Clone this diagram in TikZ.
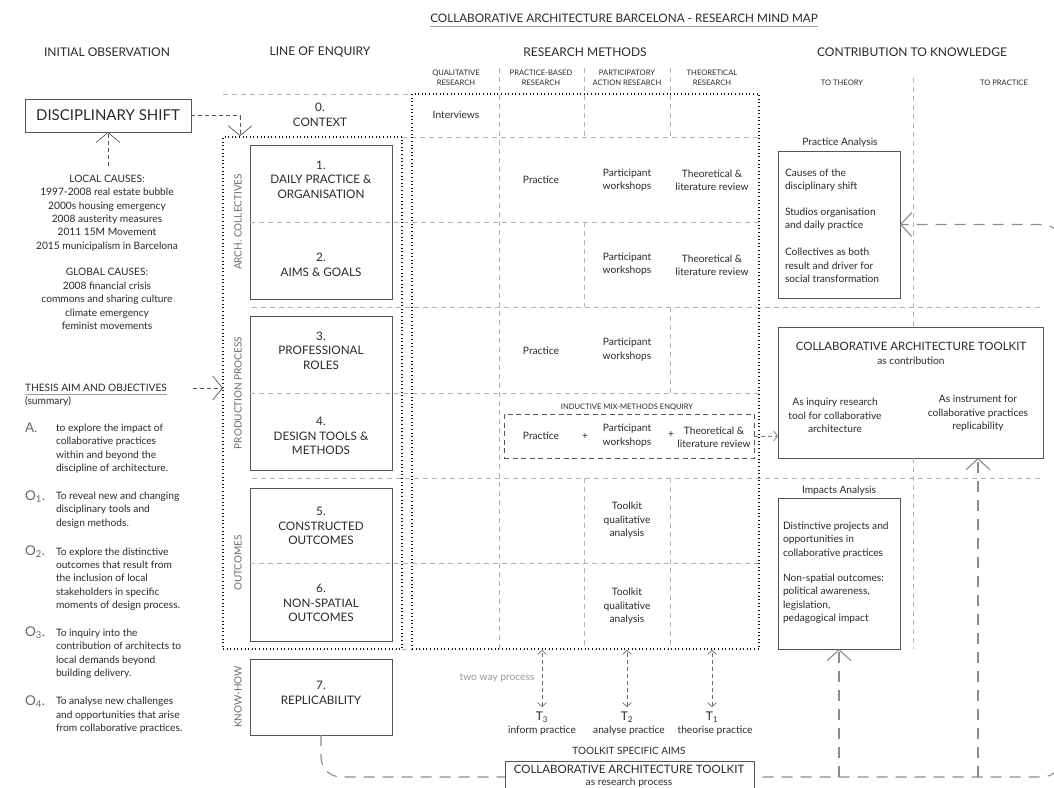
\documentclass[tikz,border=0pt]{standalone}
\usepackage{fontspec}
\setmainfont{Lato}
\usetikzlibrary{arrows.meta}
\definecolor{tc}{HTML}{2A2A2A}
\definecolor{boxc}{HTML}{555555}
\definecolor{gridc}{HTML}{B3B3B3}
\definecolor{loopc}{HTML}{8C8C8C}
\definecolor{dotc}{HTML}{111111}
\definecolor{lblc}{HTML}{6A6A6A}
\definecolor{lightc}{HTML}{9A9A9A}
\begin{document}
\begin{tikzpicture}[x=1pt,y=-1pt,
  every node/.style={inner sep=0pt, outer sep=0pt, text=tc},
  body/.style={font=\fontsize{10.2}{13.4}\selectfont, align=center},
  bodyl/.style={font=\fontsize{10.2}{13.4}\selectfont, align=left, anchor=west},
  hdr/.style={font=\fontsize{12}{14}\selectfont},
  subh/.style={font=\fontsize{7.6}{10.5}\selectfont, align=center},
  boxlbl/.style={font=\fontsize{11.7}{14.5}\selectfont, align=center},
  side/.style={font=\fontsize{10}{11}\selectfont, rotate=90, text=lblc},
  obj/.style={font=\fontsize{13.5}{14}\selectfont, text=lblc, anchor=west},
  box/.style={draw=boxc, line width=0.9pt, fill=white, anchor=north west},
  grid/.style={draw=gridc, line width=0.7pt, dash pattern=on 5pt off 4pt},
  dotbox/.style={draw=dotc, line width=2.1pt, dash pattern=on 0.9pt off 2.7pt, anchor=north west},
  loopl/.style={draw=loopc, line width=1.1pt, dash pattern=on 11pt off 8pt},
  conn/.style={draw=boxc, line width=0.7pt, dash pattern=on 4pt off 3pt},
  bigtip/.style={-{Straight Barb[length=10pt,width=24pt]}},
  twotip/.style={{Straight Barb[length=4pt,width=9pt]}-{Straight Barb[length=4pt,width=9pt]}}
]
\useasboundingbox[fill=white] (0,0) rectangle (1054,787);

% ---------- coordinates for the loop ----------
\coordinate (lpA) at (321,777);
\coordinate (lpB) at (1062,777);
\coordinate (tkb) at (978,458);

% ---------- boxes ----------
\node[box, minimum width=166pt, minimum height=33pt] (ds) at (25,99) {};
\node[box, minimum width=142pt, minimum height=154pt] (ac) at (250,145) {};
\node[box, minimum width=142pt, minimum height=154pt] (pp) at (250,316) {};
\node[box, minimum width=142pt, minimum height=153pt] (oc) at (250,488) {};
\node[box, minimum width=142pt, minimum height=76pt] (kh) at (250,659) {};
\node[box, minimum width=122pt, minimum height=147pt] (pa) at (778,151) {};
\node[box, minimum width=265pt, minimum height=131pt] (tk) at (778,327) {};
\node[box, minimum width=122pt, minimum height=151pt] (imp) at (778,498) {};
\coordinate (lpC) at (lpB |- pa.east);

% loop line (behind the bottom box)
\draw[loopl, rounded corners=20pt, -{Straight Barb[length=11pt,width=24pt]}]
  (kh.south) -- (lpA) -- (lpB) -- (lpC) -- (pa.east);
\draw[loopl, -{Straight Barb[length=11pt,width=24pt]}] (imp.south |- lpA) -- (imp.south);
\draw[loopl, -{Straight Barb[length=11pt,width=24pt]}] (tkb |- lpA) -- (tkb);

\node[box, minimum width=249pt, minimum height=40pt] (rp) at (505,761) {};

% ---------- grid ----------
\draw[grid] (223,94) -- (412,94);
\draw[grid] (402,137) -- (759,137);
\draw[grid] (250,222) -- (759,222);
\draw[grid] (252,307) -- (1043,307);
\draw[grid] (250,393) -- (759,393);
\draw[grid] (252,478) -- (1043,478);
\draw[grid] (250,563) -- (759,563);
\draw[grid] (402,649) -- (412,649);
\draw[grid] (499,68) -- (499,649);
\draw[grid] (584,68) -- (584,137);
\draw[grid] (584,222) -- (584,307);
\draw[grid] (584,478) -- (584,649);
\draw[grid] (670,68) -- (670,137);
\draw[grid] (670,307) -- (670,393);
\draw[grid] (670,478) -- (670,649);
\draw[grid] (913,78) -- (913,327);
\draw[grid] (913,458) -- (913,649);

% ---------- dotted groups ----------
\node[dotbox, minimum width=179pt, minimum height=512pt] (grp) at (223,137) {};
\node[dotbox, minimum width=347pt, minimum height=555pt] (rm) at (412,94) {};
\node[draw=boxc, line width=0.8pt, dash pattern=on 5pt off 3.5pt, anchor=north west, minimum width=250pt, minimum height=44pt] (ind) at (504,414) {};

% ---------- title and headers ----------
\node[font=\fontsize{11.7}{13}\selectfont] (title) at (624,18) {COLLABORATIVE ARCHITECTURE BARCELONA - RESEARCH MIND MAP};
\draw[draw=lightc, line width=0.8pt] ([yshift=-4.5pt]title.south west) -- ([yshift=-4.5pt]title.south east);
\node[hdr] (h1) at (107,52) {INITIAL OBSERVATION};
\node[hdr] (h2) at (320,52) {LINE OF ENQUIRY};
\node[hdr] (h3) at (585,52) {RESEARCH METHODS};
\node[hdr] (h4) at (912,52) {CONTRIBUTION TO KNOWLEDGE};
\node[subh] (s1) at (456,78) {QUALITATIVE\\RESEARCH};
\node[subh] (s2) at (541,78) {PRACTICE-BASED\\RESEARCH};
\node[subh] (s3) at (627,78) {PARTICIPATORY\\ACTION RESEARCH};
\node[subh] (s4) at (712,78) {THEORETICAL\\RESEARCH};
\node[subh] (s5) at (842,83) {TO THEORY};
\node[subh] (s6) at (1004,83) {TO PRACTICE};

% ---------- initial observation ----------
\node[font=\fontsize{15}{17}\selectfont] (dst) at (ds.center) {DISCIPLINARY SHIFT};
\node[body] (loc) at (107,213) {LOCAL CAUSES:\\1997-2008 real estate bubble\\2000s housing emergency\\2008 austerity measures\\2011 15M Movement\\2015 municipalism in Barcelona};
\node[body] (glo) at (107,299) {GLOBAL CAUSES:\\2008 financial crisis\\commons and sharing culture\\climate emergency\\feminist movements};
\coordinate (locTop) at (108,166);
\node[font=\fontsize{10.2}{12}\selectfont, anchor=west] (th) at (25,388) {THESIS AIM AND OBJECTIVES};
\draw[draw=lightc, line width=0.8pt] ([yshift=-2.5pt]th.south west) -- ([yshift=-2.5pt]th.south east);
\node[font=\fontsize{10.2}{12}\selectfont, anchor=west] (sm) at (25,401) {(summary)};
\node[obj] (oa) at (25,428) {A.};
\node[bodyl] (ta) at (56,448.5) {to explore the impact of\\collaborative practices\\within and beyond the\\discipline of architecture.};
\node[obj] (o1) at (25,497) {O\textsubscript{1}.};
\node[bodyl] (t1) at (56,510) {To reveal new and changing\\disciplinary tools and\\design methods.};
\node[obj] (o2) at (25,552) {O\textsubscript{2}.};
\node[bodyl] (t2) at (56,579) {To explore the distinctive\\outcomes that result from\\the inclusion of local\\stakeholders in specific\\moments of design process.};
\node[obj] (o3) at (25,633) {O\textsubscript{3}.};
\node[bodyl] (t3) at (56,653.5) {To inquiry into the\\contribution of architects to\\local demands beyond\\building delivery.};
\node[obj] (o4) at (25,702) {O\textsubscript{4}.};
\node[bodyl] (t4) at (56,715.5) {To analyse new challenges\\and opportunities that arise\\from collaborative practices.};
\coordinate (thEnd) at (193,388);
\coordinate (grpIn) at (grp.west |- thEnd);

% ---------- line of enquiry ----------
\node[boxlbl] (l0) at (320,115) {0.\\CONTEXT};
\node[boxlbl] (l1) at (321,179.5) {1.\\DAILY PRACTICE \&\\ORGANISATION};
\node[boxlbl] (l2) at (321,265) {2.\\AIMS \& GOALS};
\node[boxlbl] (l3) at (321,350.5) {3.\\PROFESSIONAL\\ROLES};
\node[boxlbl] (l4) at (321,436) {4.\\DESIGN TOOLS \&\\METHODS};
\node[boxlbl] (l5) at (321,526) {5.\\CONSTRUCTED\\OUTCOMES};
\node[boxlbl] (l6) at (321,603) {6.\\NON-SPATIAL\\OUTCOMES};
\node[boxlbl] (l7) at (321,693) {7.\\REPLICABILITY};
\node[side] (sa) at (238,222) {ARCH. COLLECTIVES};
\node[side] (sp) at (238,393) {PRODUCTION PROCESS};
\node[side] (so) at (238,563) {OUTCOMES};
\node[side] (sk) at (238,697) {KNOW-HOW};
\coordinate (dsT) at (240,136);

% ---------- research methods ----------
\node[body] (r0) at (456,115) {Interviews};
\node[body] (r1a) at (541,180) {Practice};
\node[body] (r1b) at (627,180) {Participant\\workshops};
\node[body] (r1c) at (712,180.5) {Theoretical \&\\literature review};
\node[body] (r2b) at (627,264) {Participant\\workshops};
\node[body] (r2c) at (712,265.5) {Theoretical \&\\literature review};
\node[body] (r3a) at (541,351) {Practice};
\node[body] (r3b) at (627,349.5) {Participant\\workshops};
\node[subh] (indl) at (627,407) {INDUCTIVE MIX-METHODS ENQUIRY};
\node[body] (r4a) at (541,436) {Practice};
\node[body] (p1) at (585,437) {+};
\node[body] (r4b) at (627,435.5) {Participant\\workshops};
\node[body] (p2) at (671,435) {+};
\node[body] (r4c) at (714,437) {Theoretical \&\\literature review};
\node[body] (r5) at (627,520.5) {Toolkit\\qualitative\\analysis};
\node[body] (r6) at (627,606.5) {Toolkit\\qualitative\\analysis};

% ---------- toolkit aims ----------
\coordinate (a3t) at (542,650); \coordinate (a3b) at (542,707);
\coordinate (a2t) at (627,650); \coordinate (a2b) at (627,707);
\coordinate (a1t) at (712,650); \coordinate (a1b) at (712,707);
\draw[conn, draw=gridc!60!black, twotip] (a3b) -- (a3t);
\draw[conn, draw=gridc!60!black, twotip] (a2b) -- (a2t);
\draw[conn, draw=gridc!60!black, twotip] (a1b) -- (a1t);
\node[body, text=lightc] (two) at (497,678) {two way process};
\node[font=\fontsize{12}{13}\selectfont] (T3) at (542,717) {T\textsubscript{3}};
\node[font=\fontsize{12}{13}\selectfont] (T2) at (627,717) {T\textsubscript{2}};
\node[font=\fontsize{12}{13}\selectfont] (T1) at (712,717) {T\textsubscript{1}};
\node[body] (ip) at (542,731) {inform practice};
\node[body] (ap) at (629,731) {analyse practice};
\node[body] (tp) at (715,731) {theorise practice};
\node[font=\fontsize{10}{12}\selectfont] (tsa) at (629,751) {TOOLKIT SPECIFIC AIMS};
\node[font=\fontsize{11.5}{13.5}\selectfont, align=center, anchor=north] (rpt) at (629,765) {COLLABORATIVE ARCHITECTURE TOOLKIT\\[-1pt]{\fontsize{10.2}{12}\selectfont as research process}};

% ---------- contribution ----------
\node[body] (pal) at (840,143) {Practice Analysis};
\node[bodyl] (pa1) at (785,180) {Causes of the\\disciplinary shift};
\node[bodyl] (pa2) at (785,219) {Studios organisation\\and daily practice};
\node[bodyl] (pa3) at (785,265.5) {Collectives as both\\result and driver for\\social transformation};
\node[font=\fontsize{11.5}{14}\selectfont, align=center] (tkt) at (911,353) {COLLABORATIVE ARCHITECTURE TOOLKIT\\{\fontsize{10.2}{12}\selectfont as contribution}};
\node[body] (tk1) at (835,415.5) {As inquiry research\\tool for collaborative\\architecture};
\node[body] (tk2) at (978,413.5) {As instrument for\\collaborative practices\\replicability};
\node[body] (iml) at (839,491) {Impacts Analysis};
\node[bodyl] (im1) at (783,540) {Distinctive projects and\\opportunities in\\collaborative practices};
\node[bodyl] (im2) at (783,598.5) {Non-spatial outcomes:\\political awareness,\\legislation,\\pedagogical impact};

% ---------- connectors ----------
\draw[conn, bigtip] (ds.east) -| (dsT);
\draw[conn, bigtip] (locTop) -- (ds.south);
\draw[conn, bigtip] (thEnd) -- (grpIn);
\draw[conn, draw=gridc!70!black, -{Straight Barb[length=4pt,width=10pt]}] (ind.east) -- (tk.west |- ind.east);
\end{tikzpicture}
\end{document}
